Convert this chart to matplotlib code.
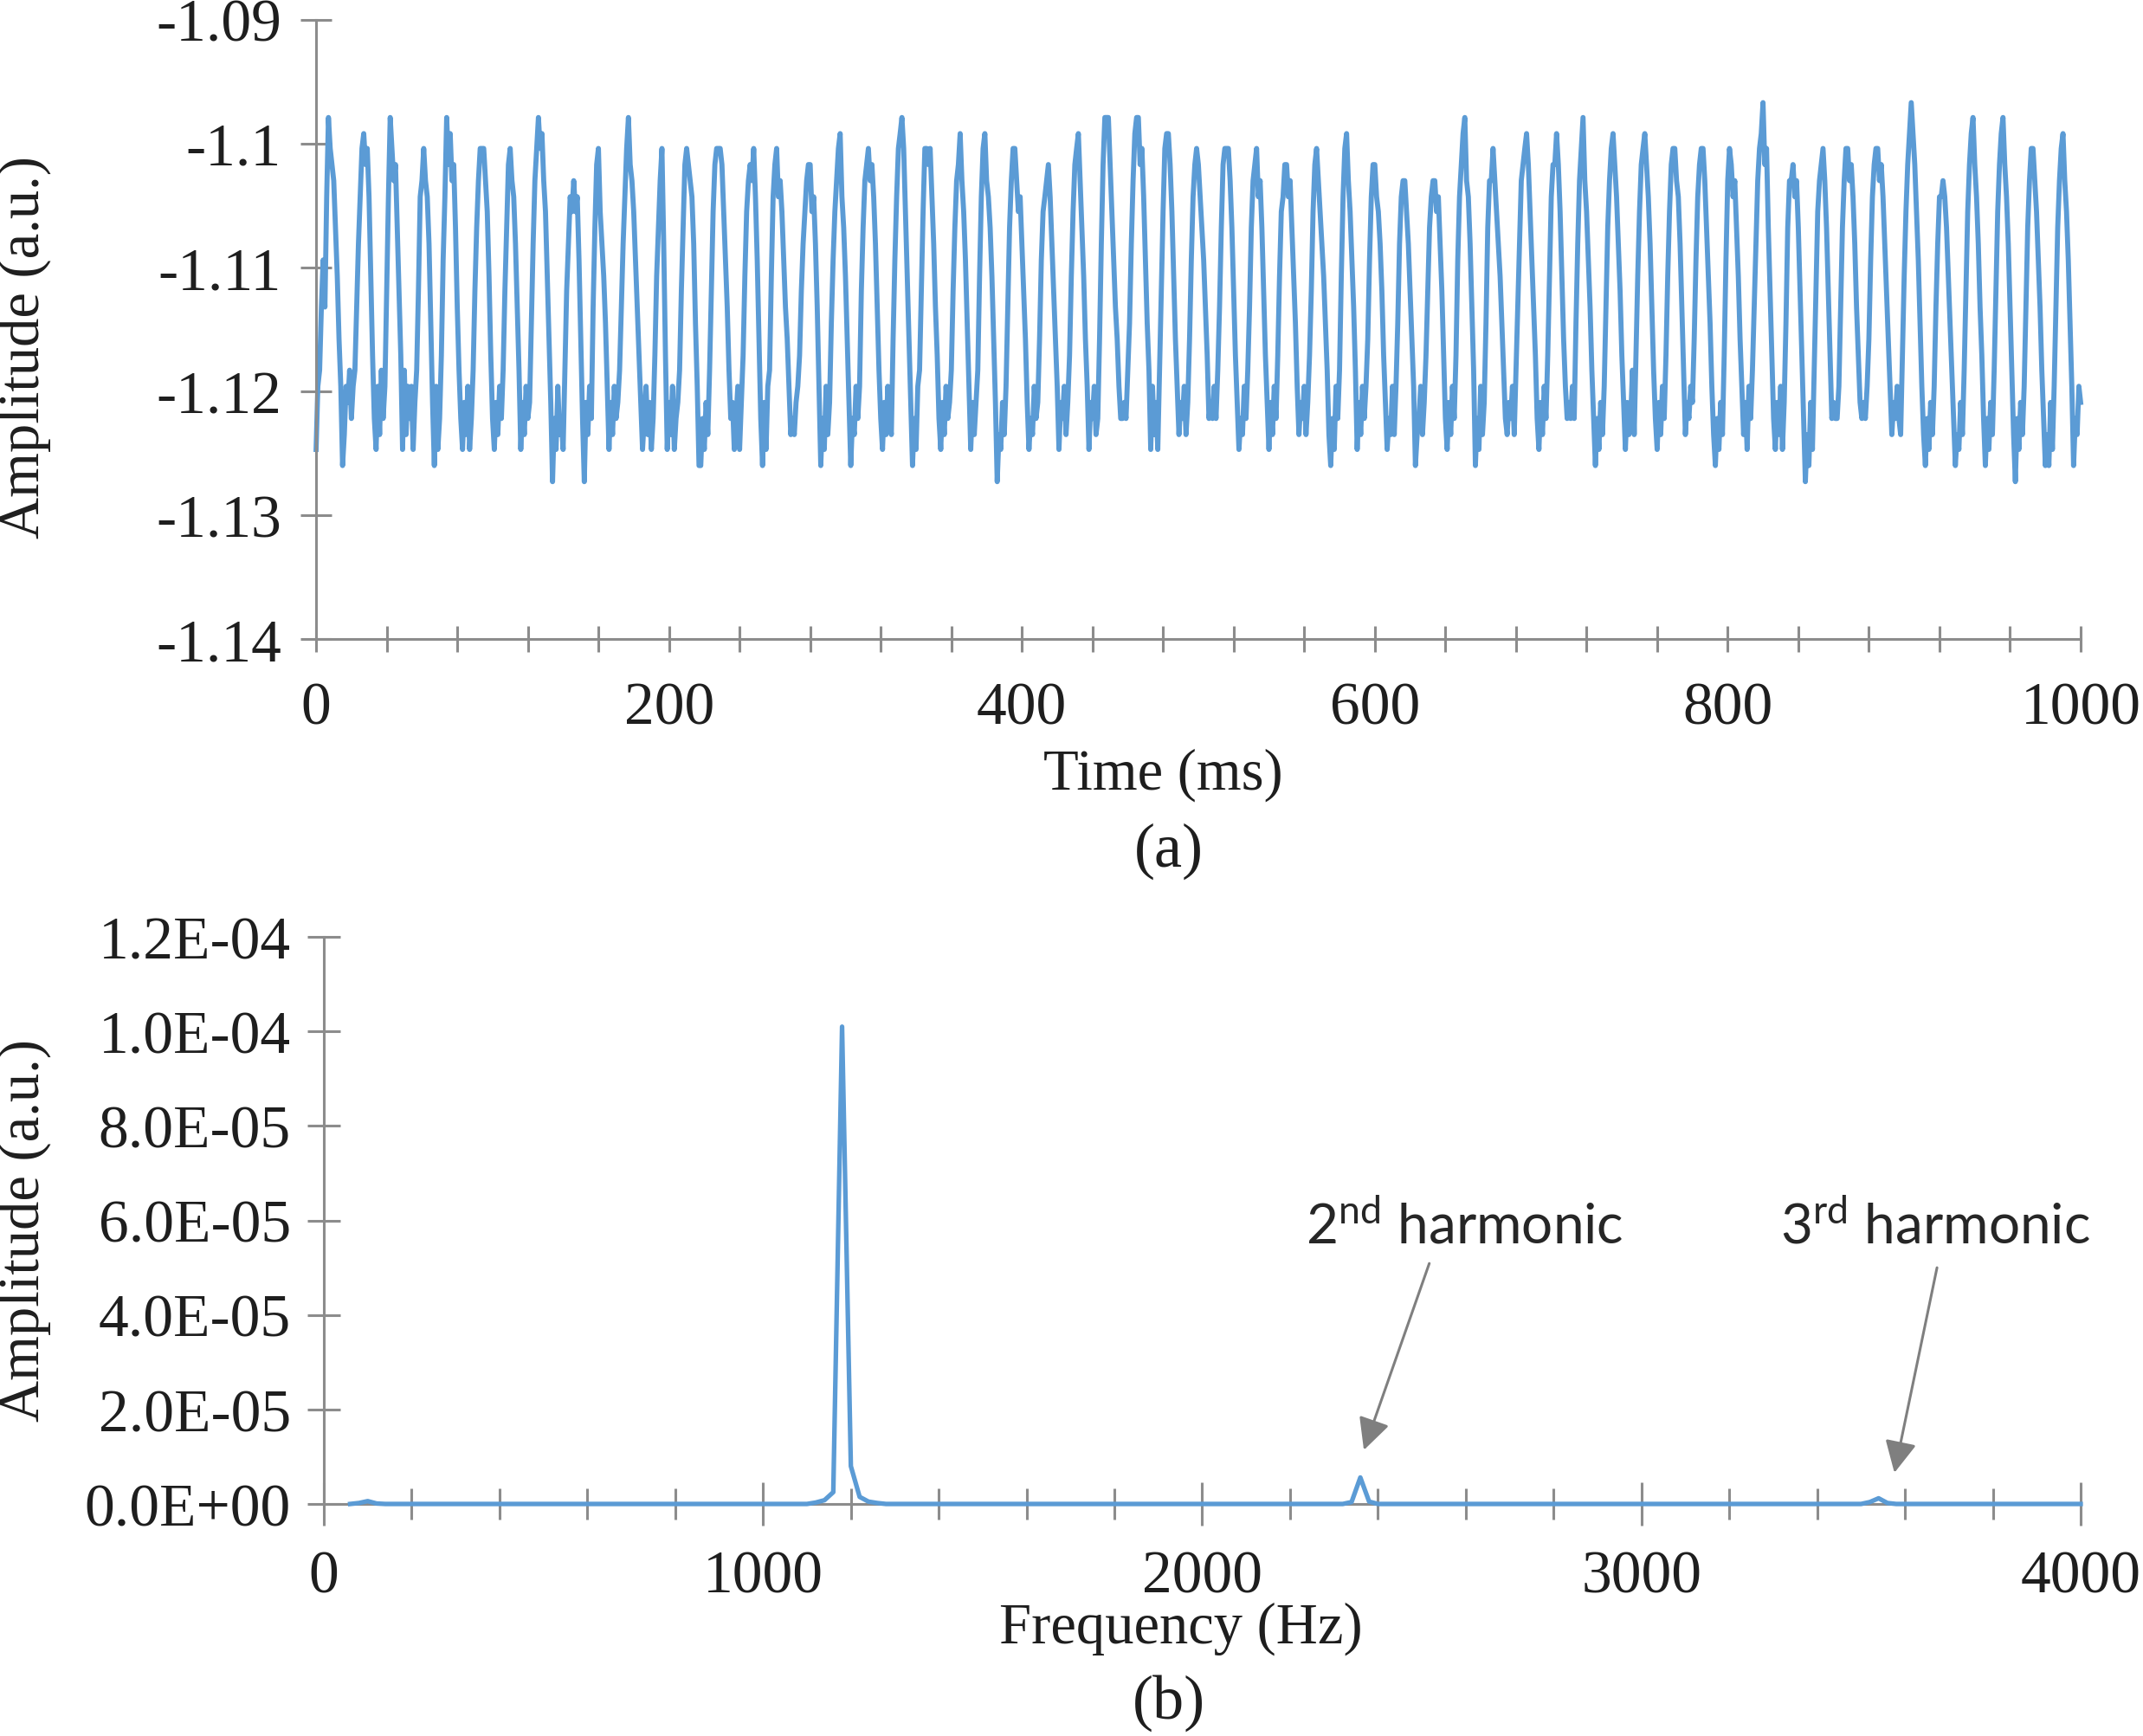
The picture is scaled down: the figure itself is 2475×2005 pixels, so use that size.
import matplotlib
matplotlib.use("Agg")
import matplotlib.pyplot as plt
import matplotlib.ticker as ticker
import numpy as np

plt.rcParams.update({
    "font.family": "Liberation Serif",
    "axes.unicode_minus": False,
    "mathtext.fontset": "custom",
    "mathtext.rm": "Lato",
    "mathtext.it": "Lato:italic",
    "mathtext.bf": "Lato:bold",
})

LINE_BLUE = "#5B9BD5"
AXIS_GREY = "#8C8C8C"
TEXT_DARK = "#1E1E1E"

# ---- (a) time trace, one sample per ms ----
sample_interval_ms = 1.0
amplitude = [
    -1.1247, -1.1196, -1.1183, -1.1132, -1.1094, -1.1132, -1.1043,
    -1.0979, -1.1004, -1.1017, -1.1030, -1.1068, -1.1107, -1.1158, -1.1196, -1.1260, -1.1235, -1.1196, -1.1209, -1.1183, -1.1222, -1.1196, -1.1183, -1.1132, -1.1081, -1.1043, -1.1004,
    -1.0992, -1.1017, -1.1004, -1.1043, -1.1107, -1.1171, -1.1222, -1.1247, -1.1196, -1.1235, -1.1183, -1.1222, -1.1196, -1.1119, -1.1043,
    -1.0979, -1.1004, -1.1030, -1.1017, -1.1068, -1.1119, -1.1171, -1.1247, -1.1183, -1.1235, -1.1196, -1.1222, -1.1196, -1.1247, -1.1209, -1.1183, -1.1119, -1.1043, -1.1030,
    -1.1004, -1.1030, -1.1043, -1.1081, -1.1145, -1.1209, -1.1260, -1.1196, -1.1247, -1.1222, -1.1171, -1.1094, -1.1043,
    -1.0979, -1.1017, -1.0992, -1.1030, -1.1017, -1.1068, -1.1132, -1.1183, -1.1222, -1.1247, -1.1209, -1.1235, -1.1196, -1.1247, -1.1222, -1.1183, -1.1119, -1.1068, -1.1030, -1.1004,
    -1.1004, -1.1004, -1.1030, -1.1055, -1.1107, -1.1171, -1.1222, -1.1247, -1.1209, -1.1235, -1.1196, -1.1222, -1.1183, -1.1119, -1.1068, -1.1017,
    -1.1004, -1.1030, -1.1043, -1.1081, -1.1132, -1.1183, -1.1247, -1.1209, -1.1235, -1.1196, -1.1222, -1.1209, -1.1145, -1.1081, -1.1030, -1.1004,
    -1.0979, -1.1004, -1.0992, -1.1030, -1.1055, -1.1107, -1.1158, -1.1209, -1.1273, -1.1222, -1.1247, -1.1196, -1.1235, -1.1222, -1.1247, -1.1183, -1.1119, -1.1081, -1.1043, -1.1055,
    -1.1030, -1.1055, -1.1043, -1.1094, -1.1158, -1.1222, -1.1273, -1.1209, -1.1235, -1.1196, -1.1222, -1.1132, -1.1068, -1.1017,
    -1.1004, -1.1055, -1.1081, -1.1107, -1.1145, -1.1196, -1.1247, -1.1209, -1.1235, -1.1196, -1.1222, -1.1209, -1.1183, -1.1132, -1.1081, -1.1043, -1.1004,
    -1.0979, -1.1017, -1.1030, -1.1055, -1.1094, -1.1132, -1.1171, -1.1209, -1.1247, -1.1222, -1.1196, -1.1235, -1.1209, -1.1247, -1.1222, -1.1171, -1.1107, -1.1068, -1.1030,
    -1.1004, -1.1081, -1.1171, -1.1247, -1.1209, -1.1235, -1.1196, -1.1247, -1.1222, -1.1209, -1.1183, -1.1119, -1.1068, -1.1017,
    -1.1004, -1.1017, -1.1030, -1.1043, -1.1081, -1.1145, -1.1196, -1.1260, -1.1260, -1.1222, -1.1247, -1.1209, -1.1235, -1.1183, -1.1119, -1.1055, -1.1017, -1.1004,
    -1.1004, -1.1004, -1.1017, -1.1055, -1.1094, -1.1132, -1.1183, -1.1222, -1.1209, -1.1247, -1.1222, -1.1196, -1.1247, -1.1209, -1.1171, -1.1107, -1.1055, -1.1030, -1.1017, -1.1030,
    -1.1004, -1.1043, -1.1094, -1.1158, -1.1222, -1.1260, -1.1209, -1.1247, -1.1196, -1.1183, -1.1107, -1.1043, -1.1017,
    -1.1004, -1.1043, -1.1030, -1.1055, -1.1094, -1.1132, -1.1158, -1.1196, -1.1235, -1.1222, -1.1235, -1.1209, -1.1196, -1.1171, -1.1119, -1.1081, -1.1055, -1.1030, -1.1017,
    -1.1017, -1.1055, -1.1043, -1.1081, -1.1132, -1.1196, -1.1260, -1.1222, -1.1247, -1.1196, -1.1235, -1.1209, -1.1145, -1.1094, -1.1055, -1.1030, -1.1004,
    -1.0992, -1.1043, -1.1068, -1.1107, -1.1158, -1.1209, -1.1260, -1.1222, -1.1235, -1.1196, -1.1222, -1.1196, -1.1119, -1.1068, -1.1030, -1.1017,
    -1.1004, -1.1030, -1.1017, -1.1043, -1.1081, -1.1132, -1.1183, -1.1222, -1.1247, -1.1209, -1.1235, -1.1196, -1.1222, -1.1235, -1.1158, -1.1094, -1.1043, -1.1004, -1.0992,
    -1.0979, -1.1004, -1.1055, -1.1107, -1.1158, -1.1209, -1.1260, -1.1222, -1.1247, -1.1196, -1.1183, -1.1119, -1.1055, -1.1004,
    -1.1004, -1.1017, -1.1004, -1.1043, -1.1081, -1.1132, -1.1171, -1.1222, -1.1247, -1.1209, -1.1235, -1.1196, -1.1222, -1.1209, -1.1183, -1.1119, -1.1068, -1.1030, -1.1017,
    -1.0992, -1.1030, -1.1055, -1.1094, -1.1145, -1.1196, -1.1247, -1.1209, -1.1235, -1.1209, -1.1183, -1.1107, -1.1043, -1.1004,
    -1.0992, -1.1030, -1.1043, -1.1068, -1.1107, -1.1158, -1.1209, -1.1273, -1.1235, -1.1247, -1.1209, -1.1235, -1.1196, -1.1132, -1.1068, -1.1030, -1.1004,
    -1.1004, -1.1030, -1.1055, -1.1043, -1.1081, -1.1119, -1.1158, -1.1209, -1.1247, -1.1222, -1.1235, -1.1196, -1.1222, -1.1209, -1.1158, -1.1094, -1.1055, -1.1043, -1.1030,
    -1.1017, -1.1043, -1.1081, -1.1119, -1.1158, -1.1196, -1.1247, -1.1209, -1.1222, -1.1196, -1.1235, -1.1209, -1.1171, -1.1107, -1.1055, -1.1017, -1.1004,
    -1.0992, -1.1030, -1.1068, -1.1107, -1.1158, -1.1196, -1.1247, -1.1209, -1.1222, -1.1196, -1.1235, -1.1222, -1.1158, -1.1081, -1.1017, -1.0979,
    -1.0979, -1.0979, -1.1017, -1.1055, -1.1094, -1.1132, -1.1158, -1.1196, -1.1222, -1.1222, -1.1209, -1.1222, -1.1183, -1.1145, -1.1081, -1.1030, -1.0992, -1.0979,
    -1.0979, -1.1017, -1.1004, -1.1043, -1.1094, -1.1145, -1.1183, -1.1247, -1.1196, -1.1235, -1.1209, -1.1247, -1.1183, -1.1119, -1.1055, -1.1004,
    -1.0992, -1.0992, -1.1017, -1.1055, -1.1107, -1.1158, -1.1196, -1.1235, -1.1209, -1.1222, -1.1196, -1.1235, -1.1209, -1.1158, -1.1094, -1.1043, -1.1017,
    -1.1004, -1.1017, -1.1043, -1.1068, -1.1094, -1.1132, -1.1171, -1.1222, -1.1209, -1.1222, -1.1196, -1.1222, -1.1183, -1.1132, -1.1068, -1.1017, -1.1004,
    -1.1004, -1.1004, -1.1030, -1.1068, -1.1119, -1.1171, -1.1209, -1.1247, -1.1222, -1.1235, -1.1196, -1.1222, -1.1183, -1.1132, -1.1068, -1.1030, -1.1017,
    -1.1004, -1.1043, -1.1030, -1.1068, -1.1119, -1.1171, -1.1209, -1.1247, -1.1209, -1.1235, -1.1196, -1.1222, -1.1171, -1.1107, -1.1055, -1.1043, -1.1017,
    -1.1017, -1.1043, -1.1030, -1.1068, -1.1107, -1.1145, -1.1196, -1.1235, -1.1209, -1.1222, -1.1196, -1.1235, -1.1209, -1.1171, -1.1119, -1.1055, -1.1017,
    -1.1004, -1.1030, -1.1055, -1.1081, -1.1107, -1.1145, -1.1183, -1.1235, -1.1260, -1.1222, -1.1247, -1.1196, -1.1222, -1.1183, -1.1107, -1.1043, -1.1004,
    -1.0992, -1.1030, -1.1055, -1.1094, -1.1132, -1.1183, -1.1247, -1.1209, -1.1235, -1.1196, -1.1222, -1.1196, -1.1158, -1.1094, -1.1043, -1.1017,
    -1.1017, -1.1043, -1.1055, -1.1081, -1.1119, -1.1171, -1.1209, -1.1247, -1.1222, -1.1235, -1.1196, -1.1235, -1.1196, -1.1145, -1.1081, -1.1043, -1.1030,
    -1.1030, -1.1055, -1.1081, -1.1119, -1.1158, -1.1196, -1.1260, -1.1235, -1.1222, -1.1196, -1.1235, -1.1209, -1.1171, -1.1119, -1.1068, -1.1043, -1.1030,
    -1.1030, -1.1055, -1.1043, -1.1081, -1.1119, -1.1171, -1.1222, -1.1247, -1.1209, -1.1235, -1.1196, -1.1222, -1.1171, -1.1094, -1.1043, -1.1017, -1.0992,
    -1.0979, -1.1030, -1.1043, -1.1081, -1.1132, -1.1183, -1.1260, -1.1222, -1.1247, -1.1196, -1.1235, -1.1209, -1.1145, -1.1068, -1.1030, -1.1030,
    -1.1004, -1.1030, -1.1055, -1.1081, -1.1107, -1.1145, -1.1183, -1.1222, -1.1235, -1.1209, -1.1222, -1.1196, -1.1235, -1.1183, -1.1132, -1.1081, -1.1030, -1.1017, -1.1004,
    -1.0992, -1.1017, -1.1055, -1.1094, -1.1132, -1.1171, -1.1222, -1.1247, -1.1209, -1.1235, -1.1196, -1.1222, -1.1171, -1.1107, -1.1043, -1.1017, -1.1017,
    -1.0992, -1.1017, -1.1055, -1.1107, -1.1158, -1.1196, -1.1222, -1.1209, -1.1222, -1.1196, -1.1222, -1.1145, -1.1081, -1.1030, -1.1004,
    -1.0979, -1.1030, -1.1055, -1.1094, -1.1132, -1.1183, -1.1222, -1.1260, -1.1222, -1.1247, -1.1209, -1.1235, -1.1196, -1.1132, -1.1068, -1.1030, -1.1004,
    -1.0992, -1.1017, -1.1043, -1.1081, -1.1119, -1.1171, -1.1209, -1.1247, -1.1209, -1.1235, -1.1222, -1.1183, -1.1235, -1.1171, -1.1107, -1.1055, -1.1017, -1.1004,
    -1.0992, -1.1017, -1.1043, -1.1081, -1.1132, -1.1183, -1.1222, -1.1247, -1.1209, -1.1235, -1.1196, -1.1222, -1.1171, -1.1107, -1.1055, -1.1017, -1.1004,
    -1.1004, -1.1030, -1.1043, -1.1081, -1.1132, -1.1183, -1.1235, -1.1209, -1.1222, -1.1196, -1.1209, -1.1158, -1.1094, -1.1043, -1.1017, -1.1004,
    -1.1004, -1.1030, -1.1068, -1.1107, -1.1145, -1.1196, -1.1235, -1.1260, -1.1222, -1.1247, -1.1209, -1.1235, -1.1171, -1.1094, -1.1030, -1.1004,
    -1.1017, -1.1043, -1.1030, -1.1068, -1.1107, -1.1158, -1.1196, -1.1235, -1.1209, -1.1247, -1.1196, -1.1222, -1.1183, -1.1132, -1.1081, -1.1030, -1.1004, -1.0992,
    -1.0967, -1.1017, -1.1004, -1.1068, -1.1119, -1.1171, -1.1222, -1.1247, -1.1209, -1.1235, -1.1196, -1.1247, -1.1209, -1.1145, -1.1068, -1.1030, -1.1030,
    -1.1017, -1.1043, -1.1030, -1.1068, -1.1119, -1.1171, -1.1222, -1.1273, -1.1235, -1.1260, -1.1209, -1.1247, -1.1183, -1.1119, -1.1055, -1.1030, -1.1017,
    -1.1004, -1.1030, -1.1068, -1.1119, -1.1171, -1.1222, -1.1209, -1.1222, -1.1222, -1.1196, -1.1132, -1.1068, -1.1030, -1.1004,
    -1.1004, -1.1030, -1.1017, -1.1043, -1.1081, -1.1132, -1.1171, -1.1209, -1.1222, -1.1209, -1.1222, -1.1196, -1.1158, -1.1094, -1.1043, -1.1017, -1.1004,
    -1.1004, -1.1030, -1.1017, -1.1043, -1.1081, -1.1119, -1.1158, -1.1196, -1.1235, -1.1209, -1.1222, -1.1196, -1.1222, -1.1235, -1.1171, -1.1107, -1.1055, -1.1017, -1.0992,
    -1.0967, -1.0992, -1.1017, -1.1055, -1.1094, -1.1145, -1.1196, -1.1235, -1.1260, -1.1222, -1.1247, -1.1209, -1.1235, -1.1196, -1.1132, -1.1081, -1.1043, -1.1043,
    -1.1030, -1.1043, -1.1068, -1.1107, -1.1145, -1.1183, -1.1222, -1.1260, -1.1235, -1.1247, -1.1209, -1.1235, -1.1183, -1.1119, -1.1055, -1.1017, -1.0992,
    -1.0979, -1.1017, -1.1043, -1.1081, -1.1132, -1.1171, -1.1222, -1.1260, -1.1222, -1.1247, -1.1209, -1.1235, -1.1183, -1.1119, -1.1055, -1.1017, -1.0992,
    -1.0979, -1.1017, -1.1043, -1.1081, -1.1132, -1.1183, -1.1235, -1.1273, -1.1222, -1.1247, -1.1209, -1.1235, -1.1196, -1.1132, -1.1068, -1.1030, -1.1004,
    -1.1004, -1.1030, -1.1055, -1.1094, -1.1132, -1.1183, -1.1222, -1.1260, -1.1235, -1.1260, -1.1209, -1.1247, -1.1196, -1.1132, -1.1068, -1.1030, -1.1004,
    -1.0992, -1.1030, -1.1055, -1.1094, -1.1145, -1.1196, -1.1260, -1.1222, -1.1235, -1.1196, -1.1209,
]
time_ms = np.arange(len(amplitude)) * sample_interval_ms
time_ticks = [0, 200, 400, 600, 800, 1000]
amp_ticks = [-1.14, -1.13, -1.12, -1.11, -1.10, -1.09]

# ---- (b) spectrum, 20 Hz bins from 60 Hz ----
freq_hz = np.arange(60, 4001, 20)
peak_freq_hz = [80, 100, 120, 1120, 1140, 1160, 1180, 1200, 1220, 1240, 1260,
                2340, 2360, 2380, 3520, 3540, 3560]
peak_amp = [2e-7, 6e-7, 1e-7, 3e-7, 8e-7, 2.5e-6, 1.01e-4, 8.0e-6, 1.5e-6, 5e-7, 2e-7,
            4e-7, 5.6e-6, 5e-7, 4e-7, 1.2e-6, 2e-7]
spectrum = np.zeros(len(freq_hz))
for f, a in zip(peak_freq_hz, peak_amp):
    spectrum[freq_hz == f] = a
freq_ticks = [0, 1000, 2000, 3000, 4000]
spec_ticks = [0, 2e-5, 4e-5, 6e-5, 8e-5, 1.0e-4, 1.2e-4]


def style_axes(ax):
    for side in ("top", "right"):
        ax.spines[side].set_visible(False)
    for side in ("left", "bottom"):
        ax.spines[side].set_color(AXIS_GREY)
        ax.spines[side].set_linewidth(1.1)
    ax.tick_params(which="both", direction="inout", color=AXIS_GREY, width=1.1,
                   labelsize=25, labelcolor=TEXT_DARK)


fig = plt.figure(figsize=(12.375, 10.03), dpi=200)

# (a)
ax1 = fig.add_axes([0.1475, 0.6316, 0.8234, 0.3566])
style_axes(ax1)
ax1.plot(time_ms, amplitude, color=LINE_BLUE, linewidth=2.1, clip_on=False)
ax1.set_xlim(0, 1000)
ax1.set_ylim(-1.14, -1.09)
ax1.xaxis.set_major_locator(ticker.FixedLocator(time_ticks))
ax1.xaxis.set_minor_locator(ticker.MultipleLocator(40))
ax1.yaxis.set_major_locator(ticker.FixedLocator(amp_ticks))
ax1.yaxis.set_major_formatter(ticker.FuncFormatter(lambda v, _: f"{v:g}"))
ax1.tick_params(axis="x", which="both", length=11, pad=12)
ax1.tick_params(axis="y", which="major", length=13, pad=8)
ax1.set_xlabel("Time (ms)", fontsize=24, color=TEXT_DARK, va="center")
ax1.xaxis.set_label_coords(0.48, -0.218)
ax1.set_ylabel("Amplitude (a.u.)", fontsize=24, color=TEXT_DARK, va="center")
ax1.yaxis.set_label_coords(-0.1654, 0.4725)
fig.text(0.5455, 0.51, "(a)", fontsize=26, color=TEXT_DARK, ha="center", va="center")

# (b)
ax2 = fig.add_axes([0.1511, 0.1336, 0.8198, 0.3265])
style_axes(ax2)
ax2.plot(freq_hz, spectrum, color=LINE_BLUE, linewidth=1.9, clip_on=False, zorder=3)
ax2.set_xlim(0, 4000)
ax2.set_ylim(0, 1.2e-4)
ax2.xaxis.set_major_locator(ticker.FixedLocator(freq_ticks))
ax2.xaxis.set_minor_locator(ticker.MultipleLocator(200))
ax2.yaxis.set_major_locator(ticker.FixedLocator(spec_ticks))
ax2.yaxis.set_major_formatter(ticker.FuncFormatter(lambda v, _: f"{v:.1E}"))
ax2.tick_params(axis="x", which="major", length=18, pad=10)
ax2.tick_params(axis="x", which="minor", length=13)
ax2.tick_params(axis="y", which="major", length=13.5, pad=7)
ax2.set_xlabel("Frequency (Hz)", fontsize=24, color=TEXT_DARK, va="center")
ax2.xaxis.set_label_coords(0.488, -0.218)
ax2.set_ylabel("Amplitude (a.u.)", fontsize=24, color=TEXT_DARK, va="center")
ax2.yaxis.set_label_coords(-0.1705, 0.484)
fig.text(0.5455, 0.0194, "(b)", fontsize=26, color=TEXT_DARK, ha="center", va="center")

arrow_kw = dict(arrowstyle="-|>", color="#7F7F7F", lw=1.1, mutation_scale=28,
                shrinkA=0, shrinkB=0)
ax2.text(2598, 5.88e-5, "2$^{\\mathrm{nd}}$ harmonic", family="Lato", fontsize=23,
         color="#262626", ha="center", va="center")
ax2.annotate("", xy=(2368, 1.14e-5), xytext=(2517, 5.09e-5), arrowprops=arrow_kw)
ax2.text(3669, 5.88e-5, "3$^{\\mathrm{rd}}$ harmonic", family="Lato", fontsize=23,
         color="#262626", ha="center", va="center")
ax2.annotate("", xy=(3576, 6.6e-6), xytext=(3673, 5.0e-5), arrowprops=arrow_kw)

fig.savefig("out.png", dpi=200)
